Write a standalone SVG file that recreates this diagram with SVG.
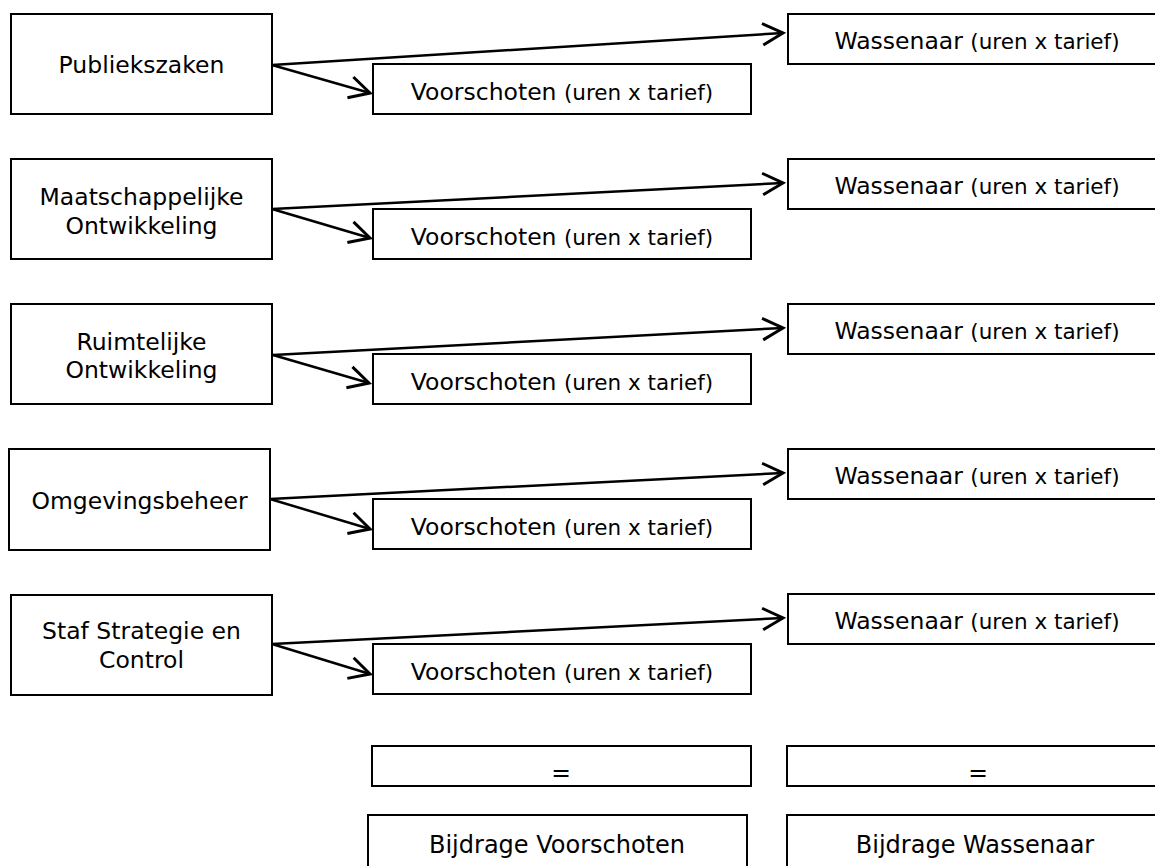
<svg xmlns="http://www.w3.org/2000/svg" width="1155" height="866" viewBox="0 0 1155 866">
<style>
.box{fill:#fff;stroke:#000;stroke-width:2}
.t{font-family:"DejaVu Sans",Verdana,sans-serif;font-size:23.5px;fill:#000;text-anchor:middle}
.s{font-size:21.5px}
.b{font-size:24px}
.c{fill:none;stroke:#000;stroke-width:2.5;marker-end:url(#arr)}
</style>
<defs>
<marker id="arr" markerUnits="userSpaceOnUse" markerWidth="24" markerHeight="24" viewBox="0 0 20 20" refX="17" refY="10" orient="auto" overflow="visible">
<path d="M0,1 L17,10 L0,19" fill="none" stroke="#000" stroke-width="2.5" stroke-linejoin="miter"/>
</marker>
</defs>
<rect width="1155" height="866" fill="#fff"/>

<g id="connectors">
<line class="c" x1="272" y1="65" x2="783" y2="33"/>
<line class="c" x1="272" y1="65" x2="370" y2="93"/>
<line class="c" x1="272" y1="209" x2="783" y2="183"/>
<line class="c" x1="272" y1="209" x2="370" y2="238"/>
<line class="c" x1="273" y1="355" x2="783" y2="328"/>
<line class="c" x1="273" y1="355" x2="369" y2="383"/>
<line class="c" x1="270" y1="499" x2="783" y2="473"/>
<line class="c" x1="270" y1="499" x2="370" y2="529"/>
<line class="c" x1="272" y1="644" x2="783" y2="618"/>
<line class="c" x1="272" y1="644" x2="370" y2="674"/>
</g>

<g id="publiekszaken">
<rect class="box" x="11" y="14" width="261" height="100"/>
<text class="t" x="141.5" y="73">Publiekszaken</text>
</g>
<g id="voorschoten1">
<rect class="box" x="373" y="64" width="378" height="50"/>
<text class="t" x="562" y="100">Voorschoten <tspan class="s">(uren x tarief)</tspan></text>
</g>
<g id="wassenaar1">
<rect class="box" x="788" y="14" width="378" height="50"/>
<text class="t" x="977" y="49">Wassenaar <tspan class="s">(uren x tarief)</tspan></text>
</g>

<g id="maatschappelijke">
<rect class="box" x="11" y="159" width="261" height="100"/>
<text class="t" x="141.5" y="205">Maatschappelijke</text>
<text class="t" x="141.5" y="234">Ontwikkeling</text>
</g>
<g id="voorschoten2">
<rect class="box" x="373" y="209" width="378" height="50"/>
<text class="t" x="562" y="245">Voorschoten <tspan class="s">(uren x tarief)</tspan></text>
</g>
<g id="wassenaar2">
<rect class="box" x="788" y="159" width="378" height="50"/>
<text class="t" x="977" y="194">Wassenaar <tspan class="s">(uren x tarief)</tspan></text>
</g>

<g id="ruimtelijke">
<rect class="box" x="11" y="304" width="261" height="100"/>
<text class="t" x="141.5" y="350">Ruimtelijke</text>
<text class="t" x="141.5" y="378">Ontwikkeling</text>
</g>
<g id="voorschoten3">
<rect class="box" x="373" y="354" width="378" height="50"/>
<text class="t" x="562" y="390">Voorschoten <tspan class="s">(uren x tarief)</tspan></text>
</g>
<g id="wassenaar3">
<rect class="box" x="788" y="304" width="378" height="50"/>
<text class="t" x="977" y="339">Wassenaar <tspan class="s">(uren x tarief)</tspan></text>
</g>

<g id="omgevingsbeheer">
<rect class="box" x="9" y="449" width="261" height="101"/>
<text class="t" x="139.5" y="509">Omgevingsbeheer</text>
</g>
<g id="voorschoten4">
<rect class="box" x="373" y="499" width="378" height="50"/>
<text class="t" x="562" y="535">Voorschoten <tspan class="s">(uren x tarief)</tspan></text>
</g>
<g id="wassenaar4">
<rect class="box" x="788" y="449" width="378" height="50"/>
<text class="t" x="977" y="484">Wassenaar <tspan class="s">(uren x tarief)</tspan></text>
</g>

<g id="staf">
<rect class="box" x="11" y="595" width="261" height="100"/>
<text class="t" x="141.5" y="639">Staf Strategie en</text>
<text class="t" x="141.5" y="668">Control</text>
</g>
<g id="voorschoten5">
<rect class="box" x="373" y="644" width="378" height="50"/>
<text class="t" x="562" y="680">Voorschoten <tspan class="s">(uren x tarief)</tspan></text>
</g>
<g id="wassenaar5">
<rect class="box" x="788" y="594" width="378" height="50"/>
<text class="t" x="977" y="629">Wassenaar <tspan class="s">(uren x tarief)</tspan></text>
</g>

<g id="som-voorschoten">
<rect class="box" x="372" y="746" width="379" height="40"/>
<text class="t" x="561" y="781">=</text>
</g>
<g id="som-wassenaar">
<rect class="box" x="787" y="746" width="379" height="40"/>
<text class="t" x="978" y="781">=</text>
</g>
<g id="bijdrage-voorschoten">
<rect class="box" x="368" y="815" width="379" height="60"/>
<text class="t b" x="557" y="853">Bijdrage Voorschoten</text>
</g>
<g id="bijdrage-wassenaar">
<rect class="box" x="787" y="815" width="379" height="60"/>
<text class="t b" x="975" y="853">Bijdrage Wassenaar</text>
</g>
</svg>
